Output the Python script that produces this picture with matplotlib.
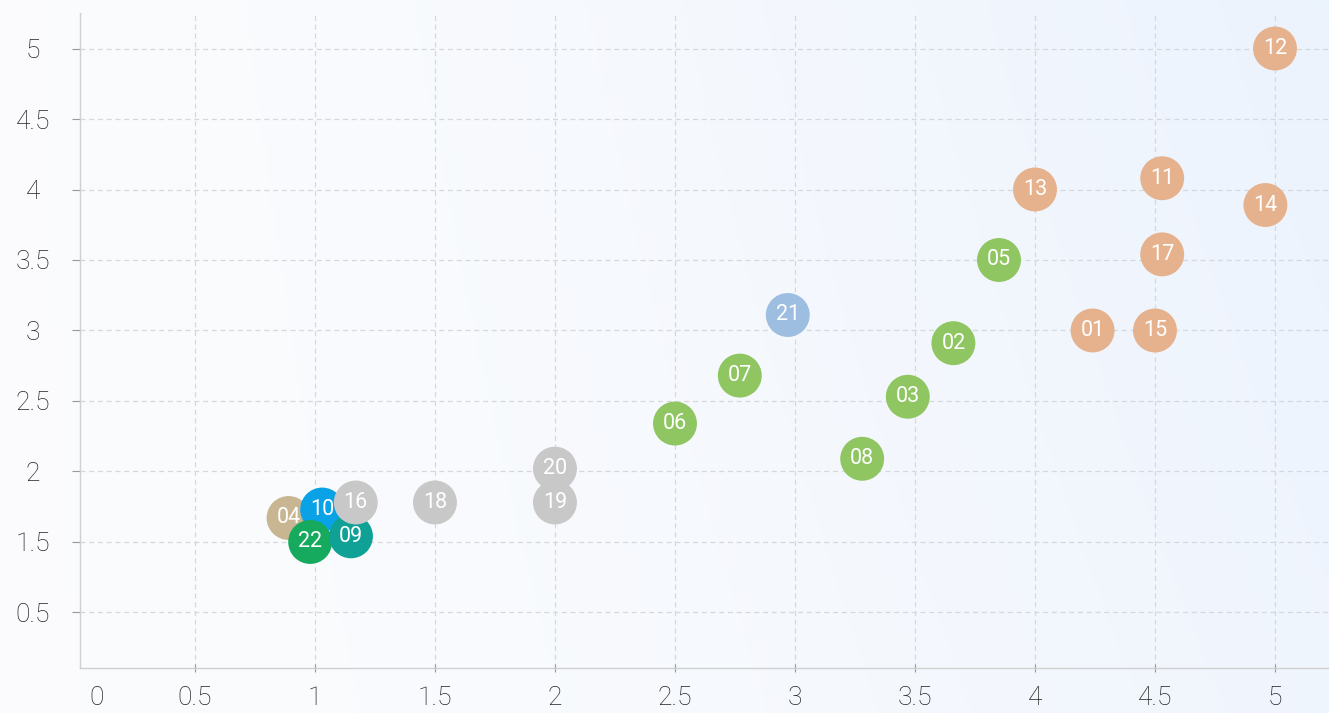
import numpy as np
import matplotlib
matplotlib.use("Agg")
import matplotlib.pyplot as plt

plt.rcParams['font.family'] = ['Roboto', 'DejaVu Sans']

# ---- data (drawing order) ----
labels = ["12", "13", "11", "14", "17", "01", "15",
          "05", "02", "03", "07", "06", "08",
          "21", "20", "19", "18",
          "04", "10", "22", "09", "16"]
x_vals = [5.00, 4.00, 4.53, 4.96, 4.53, 4.24, 4.50,
          3.85, 3.66, 3.47, 2.77, 2.50, 3.28,
          2.97, 2.00, 2.00, 1.50,
          0.89, 1.03, 0.98, 1.15, 1.17]
y_vals = [5.00, 4.00, 4.08, 3.89, 3.54, 3.00, 3.00,
          3.50, 2.91, 2.53, 2.68, 2.34, 2.09,
          3.11, 2.02, 1.78, 1.78,
          1.67, 1.73, 1.50, 1.54, 1.78]
colors = ["#E6B28D"] * 7 + ["#8FC662"] * 6 + ["#9DBEE1", "#C8C8C8", "#C8C8C8", "#C8C8C8",
          "#C8B692", "#09A2E6", "#16AA5E", "#0FA096", "#C8C8C8"]

xtick_pos = [0.09, 0.5, 1, 1.5, 2, 2.5, 3, 3.5, 4, 4.5, 5]
xtick_lab = ["0", "0.5", "1", "1.5", "2", "2.5", "3", "3.5", "4", "4.5", "5"]
ytick_pos = [1, 1.5, 2, 2.5, 3, 3.5, 4, 4.5, 5]
ytick_lab = ["0.5", "1.5", "2", "2.5", "3", "3.5", "4", "4.5", "5"]

W, H = 1329, 713
fig = plt.figure(figsize=(W / 100, H / 100), dpi=100)

# background gradient
bg = fig.add_axes([0, 0, 1, 1], zorder=-10)
gx = np.linspace(0, 1, 300)
gy = np.linspace(0, 1, 160)
GX, GY = np.meshgrid(gx, gy)
t = np.clip(0.75 * GX ** 1.5 + 0.25 * GX * (1 - GY), 0, 1)
c0 = np.array([0.985, 0.988, 0.995])
c1 = np.array([0.925, 0.953, 0.992])
img = c0[None, None, :] * (1 - t[..., None]) + c1[None, None, :] * t[..., None]
bg.imshow(img, aspect='auto', extent=[0, 1, 0, 1], origin='upper')
bg.axis('off')

ax = fig.add_axes([80 / W, (H - 668) / H, 1 - 80 / W, (668 - 13) / H])
ax.set_facecolor('none')
ax.set_xlim(0.021, 5.225)
ax.set_ylim(0.606, 5.252)

for i, (lab, xv, yv, c) in enumerate(zip(labels, x_vals, y_vals, colors)):
    ax.scatter([xv], [yv], s=1000, color=c, edgecolors='none', zorder=3 + i)
    ax.text(xv, yv, lab, color='white', fontsize=15.5, ha='center', va='center',
            zorder=3.5 + i, fontweight='normal')

ax.set_xticks(xtick_pos)
ax.set_xticklabels(xtick_lab)
ax.set_yticks(ytick_pos)
ax.set_yticklabels(ytick_lab)
ax.tick_params(axis='both', labelsize=19, labelcolor='#222222', color='#999999')
ax.tick_params(axis='x', length=6, direction='inout', pad=10)
ax.tick_params(axis='y', length=6, direction='out', pad=28)
ax.xaxis.get_major_ticks()[0].tick1line.set_visible(False)
for lbl in ax.get_xticklabels() + ax.get_yticklabels():
    lbl.set_fontweight('light')
for lbl in ax.get_yticklabels():
    lbl.set_horizontalalignment('center')

ax.grid(True, linestyle=(0, (4, 3)), color='#D5D8DD', linewidth=0.9)
ax.set_axisbelow(True)
ax.xaxis.get_gridlines()[0].set_visible(False)
for s in ['top', 'right']:
    ax.spines[s].set_visible(False)
for s in ['left', 'bottom']:
    ax.spines[s].set_color('#D0D0D0')
    ax.spines[s].set_linewidth(1)

fig.savefig('out.png', dpi=100)
